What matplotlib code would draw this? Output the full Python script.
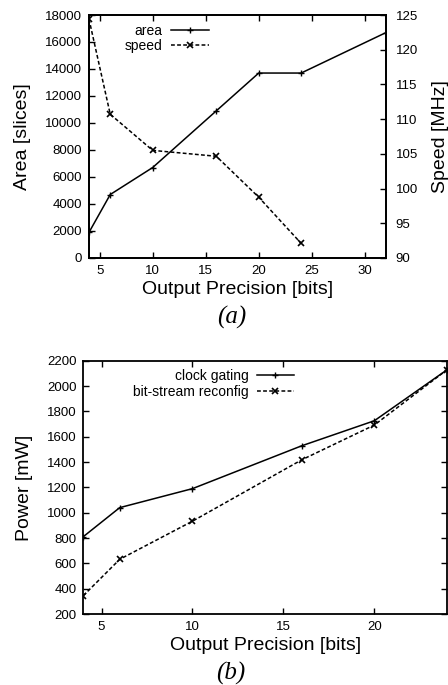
import matplotlib
matplotlib.use('Agg')
import matplotlib.pyplot as plt

plt.rcParams['font.family'] = ['Liberation Sans', 'DejaVu Sans']

# (a) area / speed vs precision
bits_a = [4, 6, 10, 16, 20, 24, 32]
area = [1900, 4700, 6700, 10900, 13700, 13700, 16700]
bits_s = [4, 6, 10, 16, 20, 24]
speed = [124.4, 110.7, 105.5, 104.65, 98.75, 92.1]

# (b) power vs precision
bits_p = [4, 6, 10, 16, 20, 24]
clock_gating = [811, 1040, 1190, 1528, 1726, 2129]
bitstream = [345, 632, 933, 1417, 1692, 2129]

dash = (0, (2.5, 1.5))

def style(ax, right=True):
    for s in ax.spines.values():
        s.set_linewidth(1.3)
    ax.tick_params(direction='in', length=4, width=1, labelsize=9.5,
                   top=True, right=right, pad=5)

fig = plt.figure(figsize=(4.48, 6.85), dpi=100)

# ---- top panel
ax1 = fig.add_axes([0.1987, 0.6234, 0.663, 0.3547])
ax2 = ax1.twinx()
l1, = ax1.plot(bits_a, area, color='black', lw=1.1, marker='+', ms=5, mew=1, label='area')
l2, = ax2.plot(bits_s, speed, color='black', lw=1.1, ls=dash, marker='x', ms=4, mew=1.2, label='speed')
ax1.set_xlim(4, 32)
ax1.set_ylim(0, 18000)
ax1.set_yticks(range(0, 18001, 2000))
ax1.set_xticks([5, 10, 15, 20, 25, 30])
ax2.set_ylim(90, 125)
ax2.set_yticks(range(90, 126, 5))
style(ax1, right=False)
ax1.tick_params(right=False)
style(ax2)
ax2.tick_params(left=False, top=False, pad=7)
ax1.set_xlabel('Output Precision [bits]', fontsize=14, labelpad=3)
ax1.set_ylabel('Area [slices]', fontsize=14, labelpad=10)
ax2.set_ylabel('Speed [MHz]', fontsize=14, labelpad=10)
ax1.legend(handles=[l1, l2], loc='upper right', bbox_to_anchor=(0.44, 1.01),
           frameon=False, markerfirst=False, fontsize=10, handlelength=2.7,
           handletextpad=0.6, labelspacing=0.1, borderpad=0.3)
fig.text(0.518, 0.537, '(a)', family=['Liberation Serif'], style='italic',
         fontsize=18, ha='center', va='center')

# ---- bottom panel
ax3 = fig.add_axes([0.186, 0.1036, 0.812, 0.3698])
l3, = ax3.plot(bits_p, clock_gating, color='black', lw=1.1, marker='+', ms=5, mew=1,
               label='clock gating')
l4, = ax3.plot(bits_p, bitstream, color='black', lw=1.1, ls=dash, marker='x', ms=4,
               mew=1.2, label='bit-stream reconfig')
ax3.set_xlim(4, 24)
ax3.set_ylim(200, 2200)
ax3.set_yticks(range(200, 2201, 200))
ax3.set_xticks([5, 10, 15, 20])
style(ax3)
ax3.set_xlabel('Output Precision [bits]', fontsize=14, labelpad=3)
ax3.set_ylabel('Power [mW]', fontsize=14, labelpad=10)
ax3.legend(handles=[l3, l4], loc='upper right', bbox_to_anchor=(0.61, 1.01),
           frameon=False, markerfirst=False, fontsize=10, handlelength=2.7,
           handletextpad=0.6, labelspacing=0.1, borderpad=0.3)
fig.text(0.514, 0.017, '(b)', family=['Liberation Serif'], style='italic',
         fontsize=18, ha='center', va='center')

fig.savefig('out.png', dpi=100)
